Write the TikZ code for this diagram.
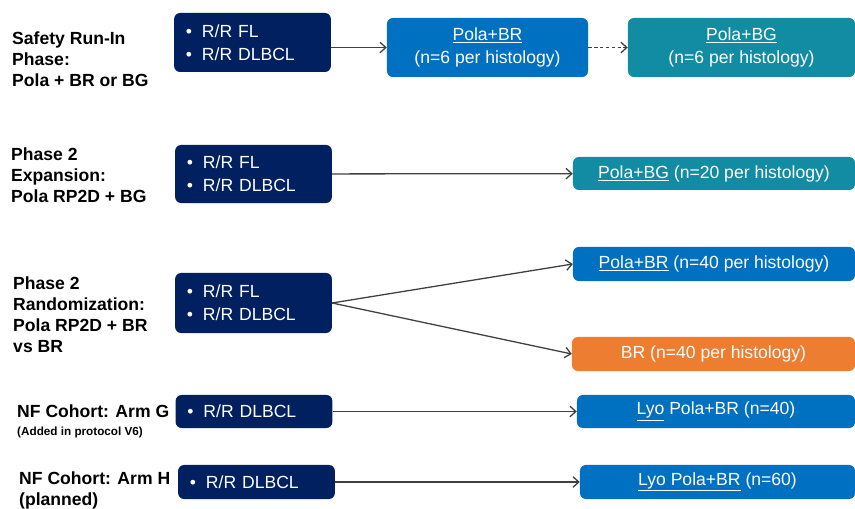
\documentclass[tikz,border=0pt]{standalone}
\usepackage{fontspec}
\setmainfont{Liberation Sans}
\usetikzlibrary{arrows.meta}
\definecolor{navy}{RGB}{0,32,96}
\definecolor{armblue}{RGB}{0,112,192}
\definecolor{armteal}{RGB}{18,140,163}
\definecolor{armorange}{RGB}{237,125,49}

\begin{document}
\begin{tikzpicture}[x=0.03cm,y=-0.03cm,
  phase/.style={anchor=west,align=left,inner sep=0pt,font=\fontsize{15}{18}\selectfont\bfseries},
  pop/.style={fill=navy,text=white,rounded corners=5pt,text width=4cm,inner xsep=0.35cm,align=left,font=\fontsize{15}{20}\selectfont},
  arm/.style={text=white,rounded corners=5pt,align=center,font=\fontsize{15}{19}\selectfont},
  link/.style={draw=black!75,line width=1.1pt,-{Straight Barb[length=5pt,width=9pt]}}]
  \useasboundingbox (0,0) rectangle (855,509);

  \node[phase] (safety) at (12,59) {Safety Run-In\\Phase:\\Pola + BR or BG};
  \node[pop,minimum height=1.77cm] (pop1) at (252.5,42.5) {\textbullet\hspace{0.3cm}R/R FL\\\textbullet\hspace{0.3cm}R/R DLBCL};
  \node[arm,fill=armblue,minimum width=6.03cm,minimum height=1.77cm] (polabr) at (487.5,47.5) {\underline{Pola+BR}\\(n=6 per histology)};
  \node[arm,fill=armteal,minimum width=6.81cm,minimum height=1.77cm] (polabg) at (741.5,47.5) {\underline{Pola+BG}\\(n=6 per histology)};
  \draw[link] (pop1.east |- polabr.west) -- (polabr.west);
  \draw[link,dash pattern=on 3pt off 2pt] (polabr) -- (polabg);

  \node[phase] (expansion) at (11,175) {Phase 2\\Expansion:\\Pola RP2D + BG};
  \node[pop,minimum height=1.74cm] (pop2) at (253.5,174) {\textbullet\hspace{0.3cm}R/R FL\\\textbullet\hspace{0.3cm}R/R DLBCL};
  \node[arm,fill=armteal,minimum width=8.46cm,minimum height=0.99cm] (bg20) at (714,173.5) {\underline{Pola+BG} (n=20 per histology)};
  \draw[link] (pop2) -- (bg20);

  \node[phase] (random) at (13,314.5) {Phase 2\\Randomization:\\Pola RP2D + BR\\vs BR};
  \node[pop,minimum height=1.8cm] (pop3) at (253.5,303) {\textbullet\hspace{0.3cm}R/R FL\\\textbullet\hspace{0.3cm}R/R DLBCL};
  \node[arm,fill=armblue,minimum width=8.46cm,minimum height=1.02cm] (br40) at (714,264) {\underline{Pola+BR} (n=40 per histology)};
  \node[arm,fill=armorange,minimum width=8.49cm,minimum height=1.02cm] (bronly) at (713.5,354) {BR (n=40 per histology)};
  \draw[link] (pop3.east) -- (br40.west);
  \draw[link] (pop3.east) -- (bronly.west);

  \node[phase] (armg) at (17,411) {NF Cohort: Arm G};
  \node[phase,font=\fontsize{10}{12}\selectfont\bfseries] (armgnote) at (17,432) {(Added in protocol V6)};
  \node[pop,minimum height=0.99cm] (pop4) at (254,411.5) {\textbullet\hspace{0.3cm}R/R DLBCL};
  \node[arm,fill=armblue,minimum width=8.34cm,minimum height=0.99cm] (lyo40) at (716,411.5) {\underline{Lyo} Pola+BR (n=40)};
  \draw[link] (pop4) -- (lyo40);

  \node[phase] (armh) at (19,490) {NF Cohort: Arm H\\(planned)};
  \node[pop,minimum height=1.02cm] (pop5) at (256.5,482) {\textbullet\hspace{0.3cm}R/R DLBCL};
  \node[arm,fill=armblue,minimum width=8.25cm,minimum height=1.02cm] (lyo60) at (717.5,482) {\underline{Lyo Pola+BR} (n=60)};
  \draw[link] (pop5) -- (lyo60);
\end{tikzpicture}
\end{document}
